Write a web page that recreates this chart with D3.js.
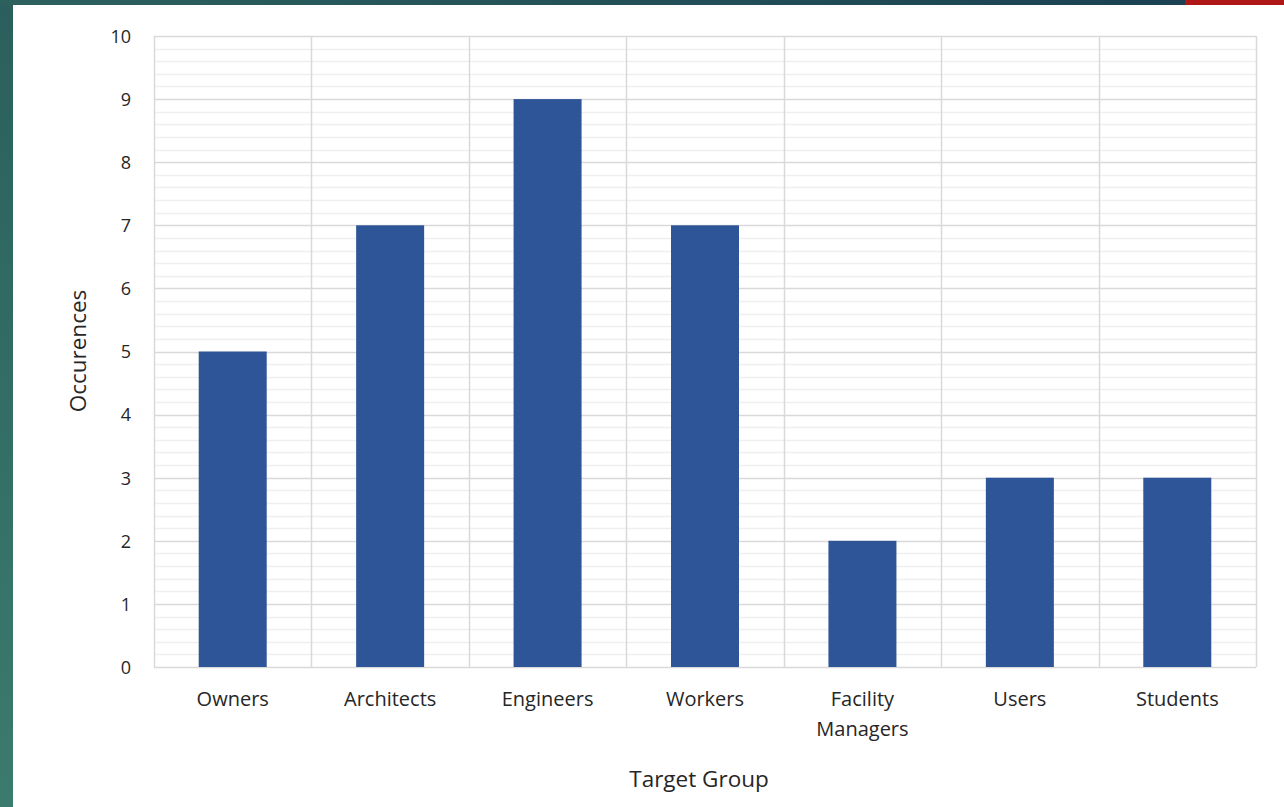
<!DOCTYPE html>
<html><head><meta charset="utf-8">
<script src="https://cdn.jsdelivr.net/npm/d3@7"></script>
<style>body{margin:0;background:#fff;overflow:hidden}svg{display:block}</style>
</head><body>
<svg id="c" width="1284" height="807"></svg>
<script>
const categories = ["Owners","Architects","Engineers","Workers","Facility Managers","Users","Students"];
const occurrences = [5,7,9,7,2,3,3];
const yTicks = [0,1,2,3,4,5,6,7,8,9,10];
const yTitle = "Occurences";
const xTitle = "Target Group";

const svg = d3.select("#c");
const defs = svg.append("defs");
const lg = defs.append("linearGradient").attr("id","lstrip").attr("x1",0).attr("y1",0).attr("x2",0).attr("y2",1);
lg.append("stop").attr("offset",0).attr("stop-color","#2b5f5d");
lg.append("stop").attr("offset",1).attr("stop-color","#3b7b6d");
const tg = defs.append("linearGradient").attr("id","tstrip").attr("x1",0).attr("y1",0).attr("x2",1).attr("y2",0);
tg.append("stop").attr("offset",0).attr("stop-color","#2c615e");
tg.append("stop").attr("offset",1).attr("stop-color","#1b4152");

svg.append("rect").attr("x",0).attr("y",0).attr("width",1284).attr("height",807).attr("fill","#fff");
svg.append("rect").attr("x",0).attr("y",0).attr("width",13).attr("height",807).attr("fill","url(#lstrip)");
svg.append("rect").attr("x",0).attr("y",0).attr("width",1185).attr("height",5).attr("fill","url(#tstrip)");
svg.append("rect").attr("x",1185).attr("y",0).attr("width",99).attr("height",5).attr("fill","#b01717");

const L=154,R=1256,T=36,B=667;
const x = d3.scaleBand().domain(categories).range([L,R]).paddingInner(0).paddingOuter(0);
const y = d3.scaleLinear().domain([0,10]).range([B,T]);

// minor gridlines
const minor = d3.range(0,50).map(i=>i*0.2).filter(v=>Math.abs(v-Math.round(v))>1e-6);
svg.append("g").selectAll("line").data(minor).join("line")
  .attr("x1",L).attr("x2",R).attr("y1",d=>Math.round(y(d))+0.5).attr("y2",d=>Math.round(y(d))+0.5)
  .attr("stroke","#efefef").attr("stroke-width",1.5);
// major gridlines
svg.append("g").selectAll("line").data(yTicks).join("line")
  .attr("x1",L).attr("x2",R).attr("y1",d=>Math.round(y(d))+0.5).attr("y2",d=>Math.round(y(d))+0.5)
  .attr("stroke","#d9d9d9").attr("stroke-width",1.5);
// vertical lines
const vx = categories.map(c=>x(c)).concat([R]);
svg.append("g").selectAll("line").data(vx).join("line")
  .attr("x1",d=>Math.round(d)+0.5).attr("x2",d=>Math.round(d)+0.5).attr("y1",T).attr("y2",B)
  .attr("stroke","#d9d9d9").attr("stroke-width",1.5);

// bars
const bw = 68;
svg.append("g").selectAll("rect").data(occurrences).join("rect")
  .attr("x",(d,i)=>x(categories[i])+x.bandwidth()/2-bw/2)
  .attr("y",d=>y(d)).attr("width",bw).attr("height",d=>B-y(d))
  .attr("fill","#2e5597");

const font = "'Open Sans', 'Noto Sans', sans-serif";
const tc = "#262626";
// y axis labels
const yAxis = d3.axisLeft(y).tickValues(yTicks).tickSize(0).tickPadding(0);
const ga = svg.append("g").attr("transform","translate(131,0)").call(yAxis);
ga.select(".domain").remove();
ga.selectAll("text").attr("font-family",font).attr("font-size",18).attr("fill",tc).attr("dy","0.35em");

// x axis labels
const xAxis = d3.axisBottom(x).tickSize(0).tickPadding(0);
const gx = svg.append("g").attr("transform","translate(0,706)").call(xAxis);
gx.select(".domain").remove();
gx.selectAll("text").attr("font-family",font).attr("font-size",20).attr("fill",tc).attr("dy",0).attr("y",0)
  .each(function(d){
    const t=d3.select(this); const words=d.split(" ");
    t.text(null);
    if(d==="Facility Managers"){
      t.append("tspan").attr("x",0).attr("y",0).text(words[0]);
      t.append("tspan").attr("x",0).attr("y",30).text(words.slice(1).join(" "));
    } else {
      t.append("tspan").attr("x",0).attr("y",0).text(d);
    }
  });

svg.append("text").attr("x",699).attr("y",787).attr("text-anchor","middle")
  .attr("font-family",font).attr("font-size",22.5).attr("fill",tc).text(xTitle);
svg.append("text").attr("transform",`translate(86,${351}) rotate(-90)`).attr("text-anchor","middle")
  .attr("font-family",font).attr("font-size",22.5).attr("fill",tc).text(yTitle);
</script>
</body></html>
